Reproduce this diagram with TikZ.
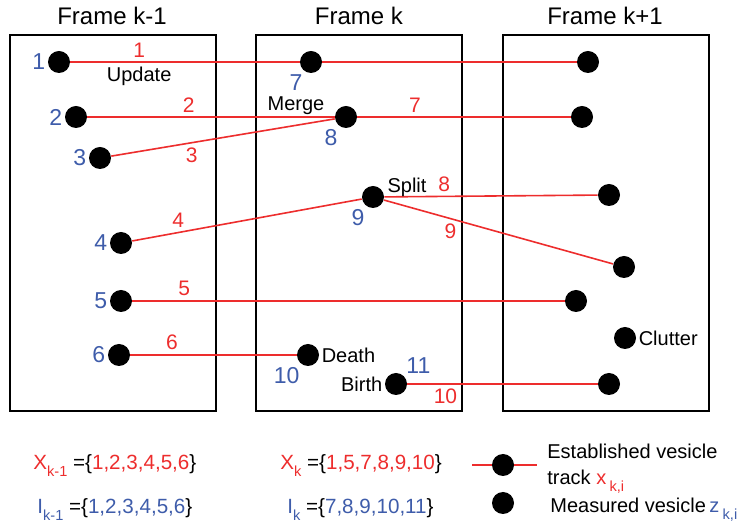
\documentclass[tikz,border=0pt]{standalone}
\usepackage{fontspec}
\setmainfont{Liberation Sans}
\usetikzlibrary{positioning}
\definecolor{trackred}{RGB}{237,45,45}
\definecolor{idblue}{RGB}{62,92,170}
\newcommand{\lowsub}[1]{\raisebox{-3.5pt}{\fontsize{7.3}{8}\selectfont #1}}
\tikzset{
  framebox/.style={draw, line width=1pt, minimum width=103pt, minimum height=188pt, inner sep=0pt},
  frametitle/.style={font=\fontsize{12}{14}\selectfont},
  ves/.style={circle, fill=black, inner sep=0pt, minimum size=11pt},
  track/.style={draw=trackred, line width=0.8pt},
  trackid/.style={text=trackred, font=\fontsize{10.5}{12}\selectfont, inner sep=2pt},
  measid/.style={text=idblue, font=\fontsize{11.5}{13}\selectfont, inner sep=1pt},
  event/.style={font=\fontsize{10}{12}\selectfont, inner sep=1pt},
  setline/.style={font=\fontsize{10.3}{12}\selectfont, inner sep=0pt, anchor=base west},
}
\begin{document}
\begin{tikzpicture}[x=0.5pt, y=-0.5pt]
    \useasboundingbox (0,0) rectangle (740,523);
    % frames
    \node[framebox] (fprev) at (113,223) {};
    \node[framebox] (fcur) at (359,223) {};
    \node[framebox] (fnext) at (605.5,223) {};
    \node[frametitle] (tprev) at (112,16) {Frame k-1};
    \node[frametitle] (tcur) at (359,16) {Frame k};
    \node[frametitle] (tnext) at (605,16) {Frame k+1};
    % vesicles
    \node[ves] (a1) at (59,62) {};
    \node[ves] (a2) at (76,117) {};
    \node[ves] (a3) at (100,158) {};
    \node[ves] (a4) at (121,243) {};
    \node[ves] (a5) at (121,301) {};
    \node[ves] (a6) at (119,355) {};
    \node[ves] (b7) at (311,62) {};
    \node[ves] (b8) at (346,117) {};
    \node[ves] (b9) at (373,197) {};
    \node[ves] (b10) at (308,355) {};
    \node[ves] (b11) at (396,384) {};
    \node[ves] (c1) at (588,62) {};
    \node[ves] (c2) at (582,117) {};
    \node[ves] (c3) at (609,195) {};
    \node[ves] (c4) at (624,267) {};
    \node[ves] (c5) at (576,301) {};
    \node[ves] (c6) at (609,384) {};
    \node[ves] (clut) at (625,338) {};
    % measurement ids
    \node[measid, left=0pt of a1] (m1) {1};
    \node[measid, left=0pt of a2] (m2) {2};
    \node[measid, left=0pt of a3] (m3) {3};
    \node[measid, left=0pt of a4] (m4) {4};
    \node[measid, left=0pt of a5] (m5) {5};
    \node[measid, left=0pt of a6] (m6) {6};
    \node[measid, below left=1pt and -1pt of b7] (m7) {7};
    \node[measid, below left=1pt and -1pt of b8] (m8) {8};
    \node[measid, below left=1pt and -1pt of b9] (m9) {9};
    \node[measid, below left=1pt and -1pt of b10] (m10) {10};
    \node[measid, above right=0pt of b11] (m11) {11};
    % tracks
    \draw[track] (a1) -- node[trackid, above, pos=.3] (t1) {1} node[event, below=1pt, pos=.3] (update) {Update} (b7) -- (c1);
    \draw[track] (a2) -- node[trackid, above, pos=.41] (t2) {2} (b8);
    \draw[track] (a3) -- node[trackid, below, pos=.36] (t3) {3} (b8);
    \draw[track] (b8) -- node[trackid, above, pos=.27] (t7) {7} (c2);
    \draw[track] (a4) -- node[trackid, above, pos=.2] (t4) {4} (b9);
    \draw[track] (b9) -- node[trackid, above, pos=.28] (t8) {8} (c3);
    \draw[track] (b9) -- node[trackid, below, pos=.29] (t9) {9} (c4);
    \draw[track] (a5) -- node[trackid, above, pos=.12] (t5) {5} (c5);
    \draw[track] (a6) -- node[trackid, above, pos=.25] (t6) {6} (b10);
    \draw[track] (b11) -- node[trackid, below, pos=.2] (t10) {10} (c6);
    % events
    \node[event] (merge) at (296,106) {Merge};
    \node[event] (split) at (407,187) {Split};
    \node[event, right=0pt of b10] (death) {Death};
    \node[event, left=0pt of b11] (birth) {Birth};
    \node[event, right=0pt of clut] (clutter) {Clutter};
    % sets
    \node[setline] (xprev) at (33,470) {\textcolor{trackred}{X\lowsub{k-1}} =\{\textcolor{trackred}{1,2,3,4,5,6}\}};
    \node[setline] (iprev) at (37,514) {\textcolor{idblue}{I\lowsub{k-1}} =\{\textcolor{idblue}{1,2,3,4,5,6}\}};
    \node[setline] (xcur) at (280,470) {\textcolor{trackred}{X\lowsub{k}} =\{\textcolor{trackred}{1,5,7,8,9,10}\}};
    \node[setline] (icur) at (287,514) {\textcolor{idblue}{I\lowsub{k}} =\{\textcolor{idblue}{7,8,9,10,11}\}};
    % legend
    \coordinate (lgl) at (472,465);
    \coordinate (lgr) at (537,465);
    \node[ves] (lgtrack) at (503,465) {};
    \draw[track] (lgl) -- (lgtrack) -- (lgr);
    \node[ves] (lgmeas) at (503,503) {};
    \node[setline, font=\fontsize{10}{13}\selectfont, align=left] (lgtracktxt) at (547,485) {Established vesicle\\track \textcolor{trackred}{x\,\lowsub{k,i}}};
    \node[setline, font=\fontsize{10}{12}\selectfont] (lgmeastxt) at (550,513) {Measured vesicle\,\textcolor{idblue}{z\,\lowsub{k,i}}};
\end{tikzpicture}
\end{document}
